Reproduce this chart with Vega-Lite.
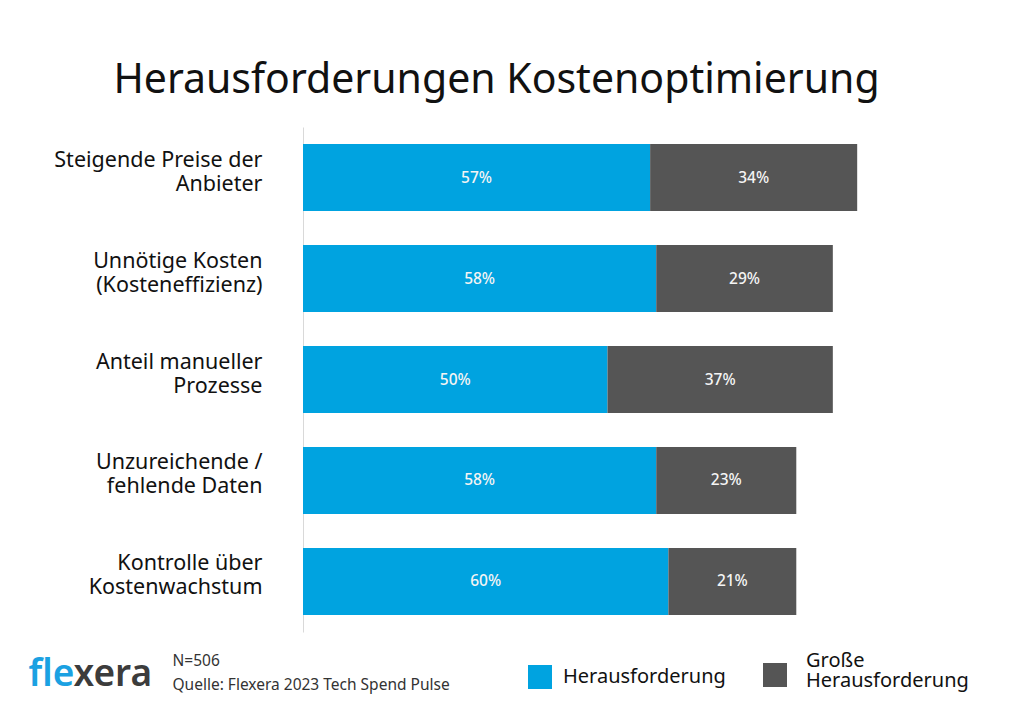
{
  "$schema": "https://vega.github.io/schema/vega-lite/v6.json",
  "width": 609,
  "height": 505,
  "autosize": {"type": "none"},
  "padding": {"left": 303, "top": 127, "right": 112, "bottom": 92},
  "background": "white",
  "config": {"font": "Noto Sans", "view": {"stroke": null}},
  "title": {
    "text": "Herausforderungen Kostenoptimierung",
    "fontSize": 41,
    "fontWeight": "normal",
    "color": "#111111",
    "anchor": "middle",
    "frame": "group",
    "dx": -111,
    "offset": 25
  },
  "data": {
    "values": [
      {"kategorie": "Steigende Preise der|Anbieter", "serie": "Herausforderung", "wert": 0.57},
      {"kategorie": "Steigende Preise der|Anbieter", "serie": "Große Herausforderung", "wert": 0.34},
      {"kategorie": "Unnötige Kosten\u00a0|(Kosteneffizienz)", "serie": "Herausforderung", "wert": 0.58},
      {"kategorie": "Unnötige Kosten\u00a0|(Kosteneffizienz)", "serie": "Große Herausforderung", "wert": 0.29},
      {"kategorie": "Anteil manueller|Prozesse\u00a0", "serie": "Herausforderung", "wert": 0.50},
      {"kategorie": "Anteil manueller|Prozesse\u00a0", "serie": "Große Herausforderung", "wert": 0.37},
      {"kategorie": "Unzureichende /|fehlende Daten", "serie": "Herausforderung", "wert": 0.58},
      {"kategorie": "Unzureichende /|fehlende Daten", "serie": "Große Herausforderung", "wert": 0.23},
      {"kategorie": "Kontrolle über|Kostenwachstum", "serie": "Herausforderung", "wert": 0.60},
      {"kategorie": "Kontrolle über|Kostenwachstum", "serie": "Große Herausforderung", "wert": 0.21}
    ]
  },
  "layer": [
    {
      "mark": {"type": "bar"},
      "encoding": {
        "x": {
          "field": "wert",
          "type": "quantitative",
          "stack": "zero",
          "scale": {"domain": [0, 1], "nice": false},
          "axis": {
            "labels": false,
            "ticks": false,
            "domain": false,
            "grid": false,
            "title": ["N=506", "Quelle: Flexera 2023 Tech Spend Pulse"],
            "titleX": -131,
            "titleY": 33,
            "titleAlign": "left",
            "titleBaseline": "alphabetic",
            "titleFontSize": 15.5,
            "titleFontWeight": "normal",
            "titleColor": "#333333",
            "titleLineHeight": 24
          }
        },
        "order": {"field": "serie", "sort": "descending"},
        "y": {
          "field": "kategorie",
          "type": "nominal",
          "sort": null,
          "scale": {"paddingInner": 0.335, "paddingOuter": 0.168},
          "axis": {
            "title": "fle",
            "titleX": -275,
            "titleY": 558,
            "titleAngle": 0,
            "titleAlign": "left",
            "titleBaseline": "alphabetic",
            "titleFontSize": 37,
            "titleFontWeight": 600,
            "titleColor": "#1BA1E2",
            "ticks": false,
            "tickSize": 0,
            "labelPadding": 41,
            "labelFontSize": 21.5,
            "labelColor": "#111111",
            "labelLineHeight": 24,
            "labelExpr": "split(datum.label, '|')",
            "labelOffset": -17,
            "labelLimit": 300,
            "domainColor": "#d9d9d9",
            "grid": false
          }
        },
        "color": {
          "field": "serie",
          "type": "nominal",
          "scale": {"domain": ["Herausforderung", "Große Herausforderung"], "range": ["#00A3E0", "#555555"]},
          "legend": {
            "orient": "none",
            "legendX": 225,
            "legendY": 536,
            "direction": "horizontal",
            "title": null,
            "symbolType": "square",
            "symbolSize": 576,
            "symbolStrokeWidth": 0,
            "symbolOpacity": 1,
            "labelFontSize": 20,
            "labelColor": "#111111",
            "labelOffset": 11,
            "columnPadding": 37,
            "labelLimit": 300,
            "padding": 0,
            "labelExpr": "datum.label == 'Große Herausforderung' ? ['Große', 'Herausforderung'] : datum.label",
            "encode": {
              "labels": {
                "update": {
                  "lineHeight": {"value": 20},
                  "dy": {"signal": "datum.label == 'Große Herausforderung' ? -14 : 0"},
                  "dx": {"signal": "datum.label == 'Große Herausforderung' ? 8 : 0"}
                }
              }
            }
          }
        }
      }
    },
    {
      "mark": {"type": "text", "color": "#f4f4f4", "fontSize": 15.5, "fontWeight": 500},
      "encoding": {
        "x": {
          "field": "wert",
          "type": "quantitative",
          "stack": "zero",
          "bandPosition": 0.5,
          "axis": {
            "labels": false,
            "ticks": false,
            "domain": false,
            "grid": false,
            "title": ["N=506", "Quelle: Flexera 2023 Tech Spend Pulse"],
            "titleX": -131,
            "titleY": 33,
            "titleAlign": "left",
            "titleBaseline": "alphabetic",
            "titleFontSize": 15.5,
            "titleFontWeight": "normal",
            "titleColor": "#333333",
            "titleLineHeight": 24
          }
        },
        "order": {"field": "serie", "sort": "descending"},
        "detail": {"field": "serie"},
        "y": {
          "field": "kategorie",
          "type": "nominal",
          "sort": null,
          "axis": {
            "orient": "right",
            "labels": false,
            "ticks": false,
            "domain": false,
            "grid": false,
            "title": "xera",
            "titleX": -839,
            "titleY": 558,
            "titleAngle": 0,
            "titleAlign": "left",
            "titleBaseline": "alphabetic",
            "titleFontSize": 37,
            "titleFontWeight": 600,
            "titleColor": "#3C3C3C"
          }
        },
        "text": {"field": "wert", "type": "quantitative", "format": ".0%"}
      }
    }
  ],
  "resolve": {"axis": {"y": "independent"}}
}
